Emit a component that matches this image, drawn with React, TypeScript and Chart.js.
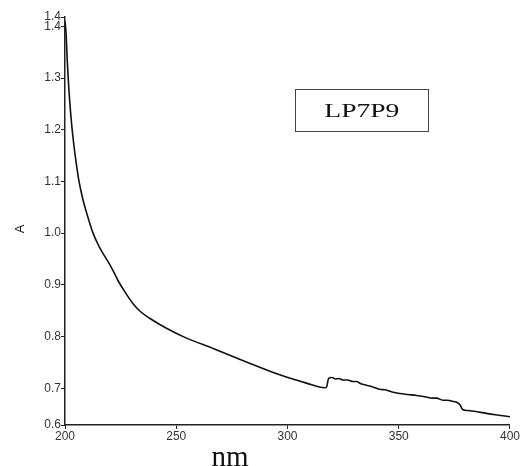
import React, { useEffect, useRef } from "react";
import { Chart, registerables } from "chart.js";

Chart.register(...registerables);

const wavelengths = [
  200, 200.5, 201, 202, 203, 204, 205, 206.3, 208, 210, 212.6, 215, 217.2, 220, 222, 224, 227, 230.7, 234,
  238.2, 245.6, 254.6, 266.6, 281.5, 296.5, 308.5, 316.7, 317.5, 318.5, 320, 321.5, 323, 325, 327, 329.4,
  331, 333, 335.4, 338, 341.4, 344, 347, 350.4, 354, 358, 362.4, 365, 367, 369.8, 372, 374, 376.5, 377.5,
  378.7, 381, 384.7, 390, 395, 400,
];
const absorbance = [
  1.41, 1.385, 1.335, 1.262, 1.21, 1.17, 1.137, 1.1, 1.066, 1.035, 1.0, 0.977, 0.96, 0.94, 0.924, 0.907, 0.886,
  0.863, 0.848, 0.835, 0.816, 0.797, 0.777, 0.751, 0.726, 0.71, 0.701, 0.702, 0.719, 0.721, 0.718, 0.719,
  0.716, 0.716, 0.713, 0.713, 0.709, 0.706, 0.703, 0.698, 0.697, 0.693, 0.69, 0.688, 0.686, 0.683, 0.681,
  0.681, 0.677, 0.677, 0.675, 0.672, 0.668, 0.659, 0.657, 0.655, 0.651, 0.648, 0.645,
];
const yTickValues = [0.629, 0.7, 0.8, 0.9, 1.0, 1.1, 1.2, 1.3, 1.4, 1.418];
const xTickValues = [200, 250, 300, 350, 400];
const legendLabel = "LP7P9";
const xTitle = "nm";
const yTitle = "A";

export default function App() {
  const canvasRef = useRef<HTMLCanvasElement | null>(null);

  useEffect(() => {
    if (!canvasRef.current) return;
    const chart = new Chart(canvasRef.current, {
      type: "line",
      data: {
        datasets: [
          {
            data: wavelengths.map((x, i) => ({ x, y: absorbance[i] })),
            borderColor: "#111",
            borderWidth: 1.6,
            pointRadius: 0,
            cubicInterpolationMode: "monotone",
            fill: false,
          },
        ],
      },
      options: {
        animation: false,
        responsive: false,
        layout: { padding: { top: 17, right: 9, left: 0, bottom: 0 } },
        plugins: { legend: { display: false }, tooltip: { enabled: false } },
        scales: {
          x: {
            type: "linear",
            min: 200,
            max: 400,
            afterFit: (s: any) => {
              s.height = 41;
            },
            afterBuildTicks: (s: any) => {
              s.ticks = xTickValues.map((v) => ({ value: v }));
            },
            grid: { drawOnChartArea: false, drawTicks: true, tickLength: 4, color: "#222", lineWidth: 1 },
            border: { display: true, color: "#222", width: 1.5 },
            ticks: {
              autoSkip: false,
              maxRotation: 0,
              padding: 0,
              color: "#333",
              font: { family: "Liberation Sans", size: 12 },
              callback: (v: any) => String(v),
            },
          },
          y: {
            type: "linear",
            min: 0.629,
            max: 1.418,
            afterFit: (s: any) => {
              s.width = 65;
            },
            afterBuildTicks: (s: any) => {
              s.ticks = yTickValues.map((v) => ({ value: v }));
            },
            grid: { drawOnChartArea: false, drawTicks: true, tickLength: 4, color: "#222", lineWidth: 1 },
            border: { display: true, color: "#222", width: 1.5 },
            ticks: {
              autoSkip: false,
              padding: 0,
              color: "#333",
              font: { family: "Liberation Sans", size: 12 },
              callback: (v: any) => Number(v).toFixed(1),
            },
          },
        },
      },
    });
    return () => chart.destroy();
  }, []);

  return (
    <div style={{ position: "absolute", left: 0, top: 0, width: 520, height: 466, background: "#fff", overflow: "hidden" }}>
      <canvas ref={canvasRef} width={520} height={466} style={{ display: "block" }} />
      <div
        style={{
          position: "absolute",
          left: 295,
          top: 89,
          width: 132,
          height: 41,
          border: "1px solid #444",
          display: "flex",
          alignItems: "center",
          justifyContent: "center",
        }}
      >
        <span
          style={{
            fontFamily: "Liberation Serif",
            fontSize: 19,
            color: "#111",
            display: "inline-block",
            transform: "scaleX(1.45)",
          }}
        >
          {legendLabel}
        </span>
      </div>
      <div
        style={{
          position: "absolute",
          left: 190,
          top: 439,
          width: 80,
          textAlign: "center",
          fontFamily: "Liberation Serif",
          fontSize: 29,
          lineHeight: "34px",
          color: "#111",
        }}
      >
        {xTitle}
      </div>
      <div
        style={{
          position: "absolute",
          left: 0,
          top: 219,
          width: 40,
          height: 20,
          lineHeight: "20px",
          textAlign: "center",
          fontFamily: "Liberation Sans",
          fontSize: 13,
          color: "#222",
          transform: "rotate(-90deg)",
        }}
      >
        {yTitle}
      </div>
    </div>
  );
}
